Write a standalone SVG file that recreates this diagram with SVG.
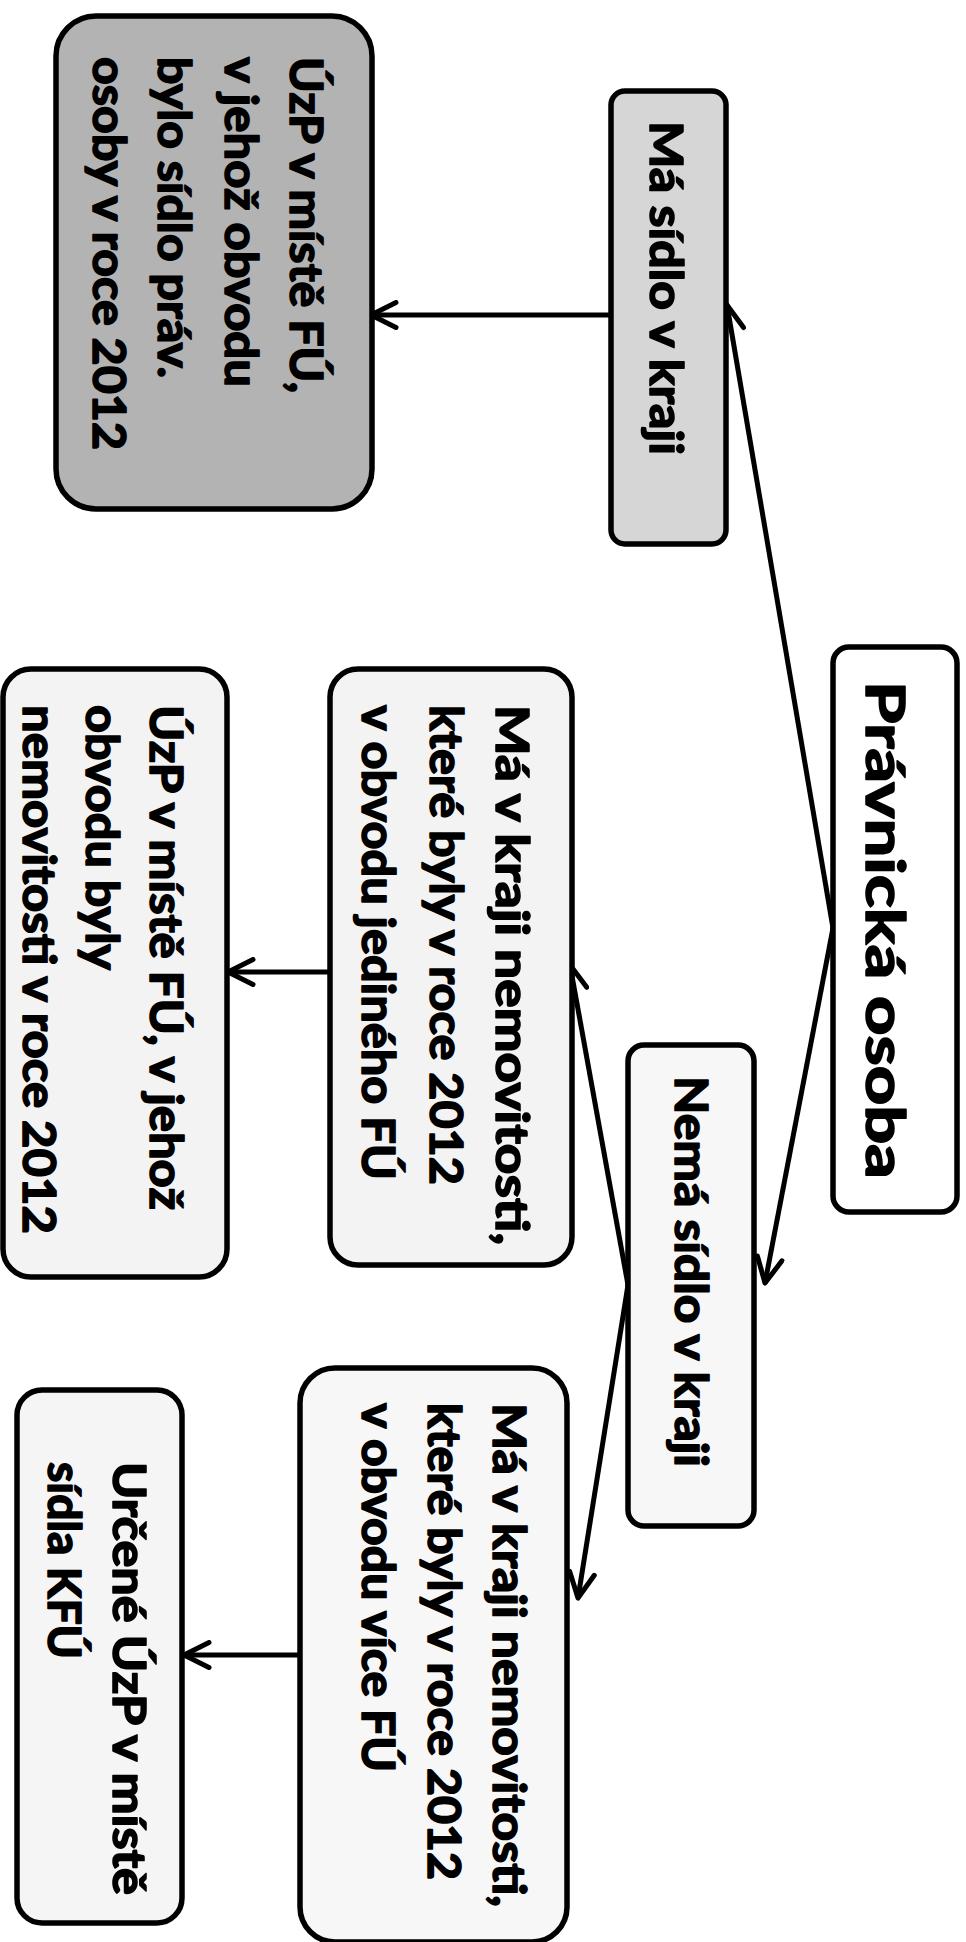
<svg xmlns="http://www.w3.org/2000/svg" width="966" height="1942" viewBox="0 0 966 1942">
<style>
.box{stroke:#000;stroke-width:5.5}
.t{font-family:Lato,"Liberation Sans",sans-serif;font-weight:bold;font-size:46px;fill:#000;stroke:#000;stroke-width:1.6;stroke-linejoin:round}
.big{font-size:54px}
.c{stroke:#000;stroke-width:5;fill:none}
</style>
<defs>
<marker id="ah" viewBox="0 0 32 30" refX="28" refY="15" markerWidth="32" markerHeight="30" markerUnits="userSpaceOnUse" orient="auto">
<path d="M3,2.5 L28,15 L3,27.5" fill="none" stroke="#000" stroke-width="5" stroke-linecap="round" stroke-linejoin="round"/>
</marker>
</defs>
<rect width="966" height="1942" fill="#fff"/>

<g id="connectors">
<line class="c" x1="611" y1="315" x2="371" y2="315" marker-end="url(#ah)"/>
<line class="c" x1="833" y1="928" x2="727" y2="305" marker-end="url(#ah)"/>
<line class="c" x1="833" y1="928" x2="765" y2="1283" marker-end="url(#ah)"/>
<line class="c" x1="628" y1="1285" x2="570" y2="965" marker-end="url(#ah)"/>
<line class="c" x1="628" y1="1285" x2="578" y2="1598" marker-end="url(#ah)"/>
<line class="c" x1="330" y1="972" x2="228" y2="972" marker-end="url(#ah)"/>
<line class="c" x1="300" y1="1655" x2="184" y2="1655" marker-end="url(#ah)"/>
</g>

<g id="node-pravnicka">
<rect class="box" x="833" y="647" width="124" height="565" rx="16" fill="#fff"/>
<text class="t big" transform="translate(866,681) rotate(90)" textLength="498" lengthAdjust="spacingAndGlyphs">Právnická osoba</text>
</g>

<g id="node-ma-sidlo">
<rect class="box" x="611" y="91" width="115" height="453" rx="14" fill="#d6d6d6"/>
<text class="t" transform="translate(650,121) rotate(90)" textLength="334" lengthAdjust="spacingAndGlyphs">Má sídlo v kraji</text>
</g>

<g id="node-uzp-sidlo">
<rect class="box" x="56" y="16" width="316" height="493" rx="40" fill="#b3b3b3"/>
<text class="t" transform="translate(290,57) rotate(90)" textLength="336" lengthAdjust="spacingAndGlyphs">ÚzP v místě FÚ,</text>
<text class="t" transform="translate(225,57) rotate(90)" textLength="330" lengthAdjust="spacingAndGlyphs">v jehož obvodu</text>
<text class="t" transform="translate(158,57) rotate(90)" textLength="321" lengthAdjust="spacingAndGlyphs">bylo sídlo práv.</text>
<text class="t" transform="translate(93,57) rotate(90)" textLength="393" lengthAdjust="spacingAndGlyphs">osoby v roce 2012</text>
</g>

<g id="node-nema-sidlo">
<rect class="box" x="628" y="1045" width="126" height="481" rx="16" fill="#f7f7f7"/>
<text class="t" transform="translate(675,1076) rotate(90)" textLength="391" lengthAdjust="spacingAndGlyphs">Nemá sídlo v kraji</text>
</g>

<g id="node-jediny-fu">
<rect class="box" x="330" y="669" width="242" height="596" rx="28" fill="#f3f3f3"/>
<text class="t" transform="translate(496,705) rotate(90)" textLength="540" lengthAdjust="spacingAndGlyphs">Má v kraji nemovitosti,</text>
<text class="t" transform="translate(430,705) rotate(90)" textLength="480" lengthAdjust="spacingAndGlyphs">které byly v roce 2012</text>
<text class="t" transform="translate(362,705) rotate(90)" textLength="475" lengthAdjust="spacingAndGlyphs">v obvodu jediného FÚ</text>
</g>

<g id="node-uzp-nemovitosti">
<rect class="box" x="3" y="669" width="224" height="608" rx="28" fill="#f3f3f3"/>
<text class="t" transform="translate(150,705) rotate(90)" textLength="505" lengthAdjust="spacingAndGlyphs">ÚzP v místě FÚ, v jehož</text>
<text class="t" transform="translate(86,705) rotate(90)" textLength="265" lengthAdjust="spacingAndGlyphs">obvodu byly</text>
<text class="t" transform="translate(23,705) rotate(90)" textLength="529" lengthAdjust="spacingAndGlyphs">nemovitosti v roce 2012</text>
</g>

<g id="node-vice-fu">
<rect class="box" x="300" y="1368" width="267" height="574" rx="35" fill="#f7f7f7"/>
<text class="t" transform="translate(493,1403) rotate(90)" textLength="504" lengthAdjust="spacingAndGlyphs">Má v kraji nemovitosti,</text>
<text class="t" transform="translate(428,1403) rotate(90)" textLength="477" lengthAdjust="spacingAndGlyphs">které byly v roce 2012</text>
<text class="t" transform="translate(362,1403) rotate(90)" textLength="369" lengthAdjust="spacingAndGlyphs">v obvodu více FÚ</text>
</g>

<g id="node-kfu">
<rect class="box" x="17" y="1390" width="165" height="533" rx="25" fill="#f5f5f5"/>
<text class="t" transform="translate(113,1462) rotate(90)" textLength="433" lengthAdjust="spacingAndGlyphs">Určené ÚzP v místě</text>
<text class="t" transform="translate(48,1462) rotate(90)" textLength="197" lengthAdjust="spacingAndGlyphs">sídla KFÚ</text>
</g>
</svg>
